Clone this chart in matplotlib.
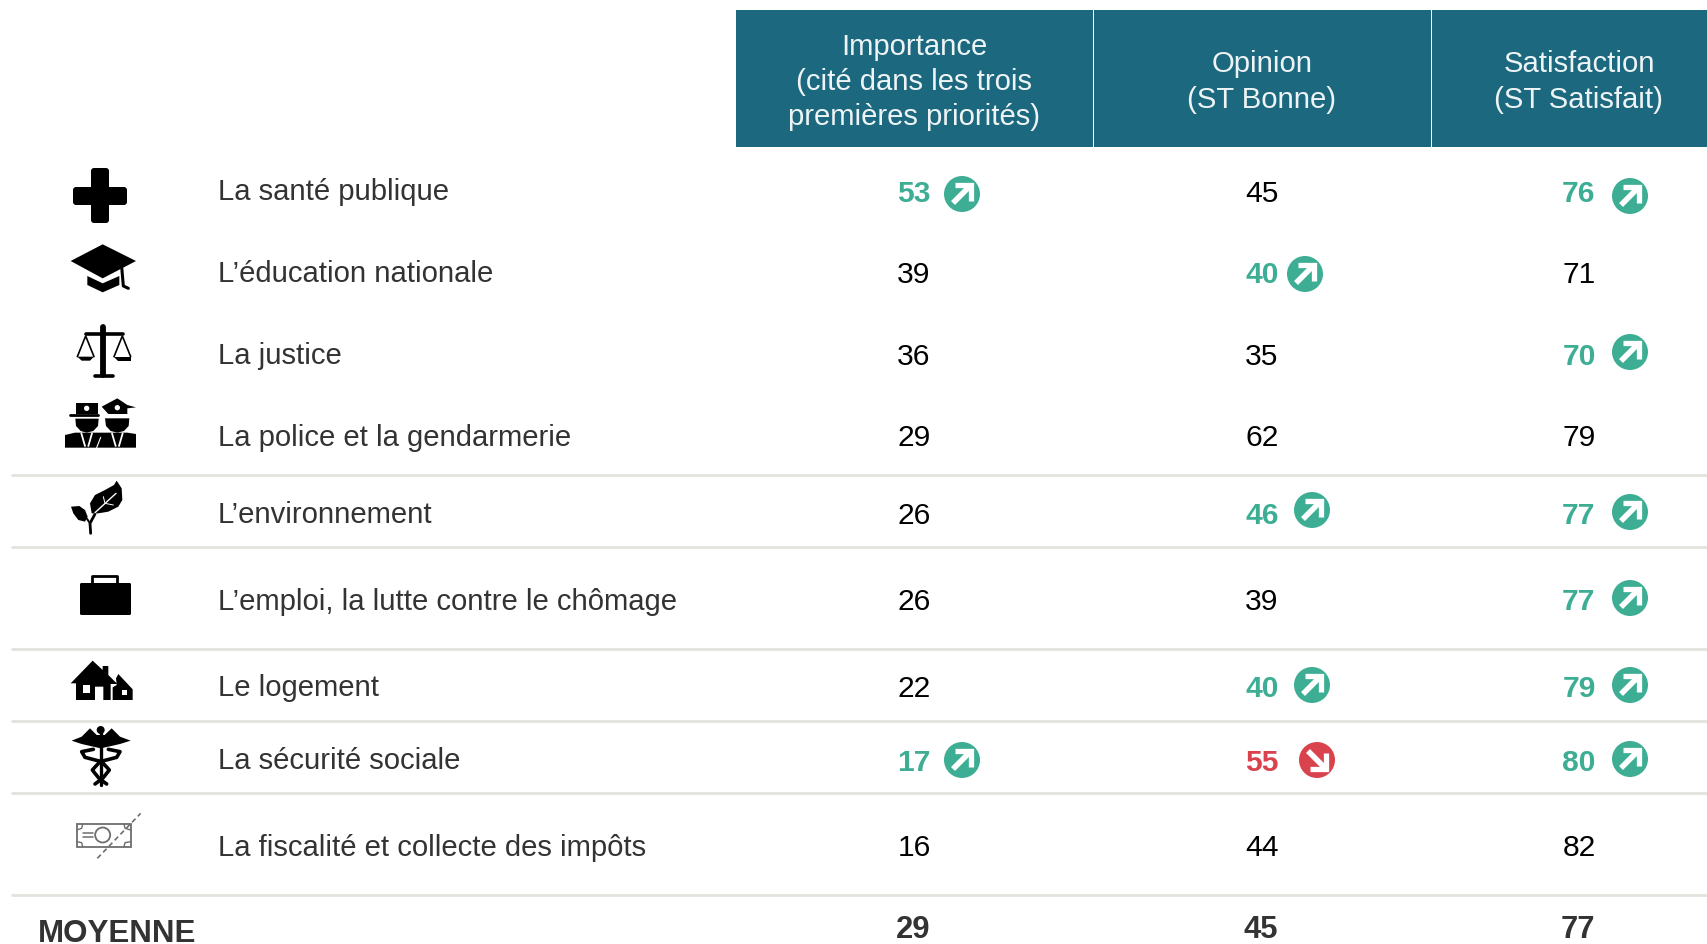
import matplotlib
matplotlib.use("Agg")
import matplotlib.pyplot as plt
from matplotlib.patches import Polygon, Circle, Rectangle, Ellipse, FancyBboxPatch

plt.rcParams['font.family'] = ['Liberation Sans', 'DejaVu Sans']

# data
labels = ["La santé publique", "L’éducation nationale", "La justice",
          "La police et la gendarmerie", "L’environnement",
          "L’emploi, la lutte contre le chômage", "Le logement",
          "La sécurité sociale", "La fiscalité et collecte des impôts"]
importance = [53, 39, 36, 29, 26, 26, 22, 17, 16]
opinion = [45, 40, 35, 62, 46, 39, 40, 55, 44]
satisfaction = [76, 71, 70, 79, 77, 77, 79, 80, 82]
moyenne = [29, 45, 77]
headers = ["Importance\n(cité dans les trois\npremières priorités)",
           "Opinion\n(ST Bonne)", "Satisfaction\n(ST Satisfait)"]
# +1 hausse, -1 baisse, 0 rien
trend_importance = [1, 0, 0, 0, 0, 0, 0, 1, 0]
trend_opinion = [0, 1, 0, 0, 1, 0, 1, -1, 0]
trend_satisfaction = [1, 0, 1, 0, 1, 1, 1, 1, 0]

# layout, in pixels of the 1708x944 picture
col_x = [914, 1262, 1579]
col_edges = [(736, 1093), (1094, 1431), (1432, 1708)]
base_y = [202, 283, 365, 446, 524, 610, 697, 771, 856]
label_y = [200, 282, 364, 446, 523, 610, 696, 769, 856]
rules_y = [475, 547, 649, 721, 793, 895]
# arrow positions per column, by row
arrow_x = [{0: 962, 7: 962},
           {1: 1305, 4: 1312, 6: 1312, 7: 1317},
           {0: 1630, 2: 1630, 4: 1630, 5: 1630, 6: 1630, 7: 1630}]
arrow_y = [{0: 194, 7: 760},
           {1: 274, 4: 510, 6: 685, 7: 760},
           {0: 196, 2: 352, 4: 512, 5: 598, 6: 685, 7: 759}]

GREEN = "#3DAE94"
RED = "#D9434E"
HEAD = "#1B687F"
RULE = "#E2E3DD"
FS = 21.1
FS_NUM = 21.6

fig = plt.figure(figsize=(17.08, 9.44), dpi=100)
ax = fig.add_axes([0, 0, 1, 1])
ax.set_xlim(0, 1708)
ax.set_ylim(944, 0)
ax.axis("off")


def arrow(x, y, sign):
    col = GREEN if sign > 0 else RED
    ax.add_patch(Circle((x, y), 18, fc=col, ec="none", zorder=3))
    s = -sign
    ax.plot([x - 9, x + 7], [y - s * 9, y + s * 7], color="white", lw=4.0,
            solid_capstyle="butt", zorder=4)
    ax.plot([x - 7, x + 9, x + 9], [y + s * 9, y + s * 9, y - s * 7], color="white", lw=3.8,
            solid_joinstyle="miter", solid_capstyle="butt", zorder=4)


def shape(pts, ox, oy, color="black", **kw):
    # icon outlines, taken from a 3x crop starting at (ox, oy)
    ax.add_patch(Polygon([(ox + a / 3, oy + b / 3) for a, b in pts], closed=True,
                         fc=color, ec="none", zorder=3, **kw))


def stroke(pts, ox, oy, lw=2.0, color="black", **kw):
    ax.plot([ox + a / 3 for a, b in pts], [oy + b / 3 for a, b in pts], color=color, lw=lw,
            solid_capstyle="round", zorder=3, **kw)


def blob(cx, cy, w, h, ox, oy, color="black"):
    ax.add_patch(Ellipse((ox + cx / 3, oy + cy / 3), w / 3, h / 3, fc=color, ec="none", zorder=3))


def draw_icons():
    # cross
    ax.add_patch(FancyBboxPatch((91, 168), 18, 55, boxstyle="round,pad=0,rounding_size=3", fc="black", ec="none"))
    ax.add_patch(FancyBboxPatch((73, 187), 54, 18, boxstyle="round,pad=0,rounding_size=3", fc="black", ec="none"))

    # mortarboard
    ox, oy = 40, 150
    shape([(92, 333), (188, 283), (288, 333), (188, 385)], ox, oy)
    shape([(142, 378), (188, 400), (238, 378), (238, 405), (188, 427), (142, 405)], ox, oy)
    stroke([(245, 350), (248, 385), (250, 408), (265, 415)], ox, oy, lw=2.2)

    # scales
    stroke([(190, 530), (190, 675)], ox, oy, lw=4.2)
    stroke([(165, 677), (220, 677)], ox, oy, lw=2.6)
    stroke([(138, 552), (248, 552)], ox, oy, lw=2.6)
    stroke([(112, 620), (137, 558), (162, 620)], ox, oy, lw=1.2)
    stroke([(222, 620), (247, 558), (272, 620)], ox, oy, lw=1.2)
    shape([(112, 620), (162, 620), (150, 632), (125, 632)], ox, oy)
    shape([(222, 620), (272, 620), (272, 632), (235, 632)], ox, oy)

    # police
    shape([(75, 893), (75, 855), (105, 848), (170, 848), (200, 848), (262, 848), (288, 852), (288, 893)], ox, oy)
    for cx in (140, 232):
        stroke([(cx - 16, 850), (cx - 5, 888)], ox, oy, lw=1.3, color="white")
        stroke([(cx + 16, 850), (cx + 5, 888)], ox, oy, lw=1.3, color="white")
    stroke([(170, 893), (182, 862)], ox, oy, lw=0.8, color="white")
    shape([(108, 758), (175, 758), (175, 792), (108, 792)], ox, oy)
    stroke([(90, 796), (175, 796)], ox, oy, lw=2.0)
    shape([(106, 806), (176, 806), (174, 828), (160, 843), (140, 848), (122, 843), (108, 828)], ox, oy)
    blob(140, 775, 16, 16, ox, oy, "white")
    shape([(185, 770), (232, 745), (262, 765), (288, 772), (262, 775), (262, 792), (205, 792)], ox, oy)
    shape([(195, 805), (268, 805), (266, 828), (252, 843), (232, 848), (212, 843), (198, 828)], ox, oy)
    blob(232, 773, 16, 16, ox, oy, "white")

    # leaf
    ox, oy = 40, 470
    shape([(155, 130), (150, 100), (165, 75), (195, 60), (222, 45), (230, 32), (245, 55),
           (247, 90), (235, 110), (205, 125), (175, 130)], ox, oy)
    shape([(93, 110), (118, 108), (135, 120), (143, 140), (135, 155), (115, 150), (100, 130)], ox, oy)
    stroke([(152, 190), (150, 160), (165, 132)], ox, oy, lw=2.0)
    stroke([(150, 160), (140, 145)], ox, oy, lw=1.4)
    stroke([(165, 128), (228, 70)], ox, oy, lw=1.0, color="white")
    stroke([(195, 100), (190, 80)], ox, oy, lw=0.7, color="white")
    stroke([(195, 100), (220, 105)], ox, oy, lw=0.7, color="white")

    # briefcase
    ax.add_patch(FancyBboxPatch((80, 583), 51, 32, boxstyle="round,pad=0,rounding_size=1.5", fc="black", ec="none"))
    stroke([(156, 342), (156, 318), (232, 318), (232, 342)], ox, oy, lw=2.0)

    # houses
    shape([(92, 640), (158, 572), (188, 600), (188, 588), (205, 588), (205, 615), (232, 642),
           (212, 642), (212, 690), (190, 690), (190, 650), (165, 650), (165, 690), (108, 690), (108, 640)], ox, oy)
    shape([(130, 645), (150, 645), (150, 668), (130, 668)], ox, oy, color="white")
    shape([(218, 690), (218, 652), (230, 645), (228, 625), (235, 612), (278, 658), (278, 690)], ox, oy)
    shape([(245, 660), (260, 660), (260, 675), (245, 675)], ox, oy, color="white")

    # caduceus
    blob(182, 780, 24, 24, ox, oy)
    shape([(95, 812), (125, 800), (150, 775), (170, 795), (194, 795), (215, 775), (240, 800),
           (272, 812), (240, 822), (205, 830), (182, 835), (160, 830), (125, 822)], ox, oy)
    stroke([(182, 790), (182, 945)], ox, oy, lw=2.4)
    stroke([(160, 838), (125, 845), (135, 862), (185, 875), (208, 900), (188, 925), (165, 942)], ox, oy, lw=2.6)
    stroke([(205, 838), (240, 845), (230, 862), (180, 875), (157, 900), (177, 925), (200, 942)], ox, oy, lw=2.6)

    # banknote
    grey = "#6E6E6E"
    ax.add_patch(Rectangle((40 + 110 / 3, 470 + 1062 / 3), 54, 23, fc="none", ec=grey, lw=1.3, zorder=3))
    ax.add_patch(Circle((40 + 188 / 3, 470 + 1095 / 3), 7.5, fc="white", ec=grey, lw=1.3, zorder=3))
    stroke([(130, 1090), (160, 1090)], ox, oy, lw=1.1, color=grey)
    stroke([(130, 1100), (160, 1100)], ox, oy, lw=1.1, color=grey)
    stroke([(110, 1080), (125, 1075), (128, 1062)], ox, oy, lw=1.0, color=grey)
    stroke([(110, 1115), (125, 1118), (128, 1130)], ox, oy, lw=1.0, color=grey)
    stroke([(272, 1080), (255, 1075), (252, 1062)], ox, oy, lw=1.0, color=grey)
    stroke([(272, 1115), (255, 1118), (252, 1130)], ox, oy, lw=1.0, color=grey)
    stroke([(172, 1165), (302, 1030)], ox, oy, lw=1.2, color=grey, linestyle=(0, (3, 2)))


# header
for x0, x1 in col_edges:
    ax.add_patch(Rectangle((x0, 10), x1 - x0, 137, fc=HEAD, ec="none"))
for x, txt in zip(col_x, headers):
    ax.text(x, 82, txt, color="#EEF4F5", fontsize=FS, ha="center", va="center", linespacing=1.32)

# rules
for y in rules_y:
    ax.plot([11, 1708], [y, y], color=RULE, lw=2.0, solid_capstyle="butt")

# rows
columns = [importance, opinion, satisfaction]
trends = [trend_importance, trend_opinion, trend_satisfaction]
for i, lab in enumerate(labels):
    ax.text(218, label_y[i], lab, color="#333333", fontsize=FS, va="baseline")
    for c in range(3):
        t = trends[c][i]
        if t == 0:
            ax.text(col_x[c], base_y[i], str(columns[c][i]), color="black", fontsize=FS_NUM,
                    ha="center", va="baseline")
        else:
            ax.text(col_x[c], base_y[i], str(columns[c][i]), color=GREEN if t > 0 else RED,
                    fontsize=FS_NUM, fontweight="bold", ha="center", va="baseline")
            arrow(arrow_x[c][i], arrow_y[c][i], t)

# moyenne
ax.text(38, 942, "MOYENNE", color="#333333", fontsize=22.5, fontweight="bold", va="baseline")
for x, v in zip(col_x, moyenne):
    ax.text(x - 1, 938, str(v), color="#333333", fontsize=22.3, fontweight="bold", ha="center", va="baseline")

draw_icons()

fig.savefig("out.png", dpi=100)
